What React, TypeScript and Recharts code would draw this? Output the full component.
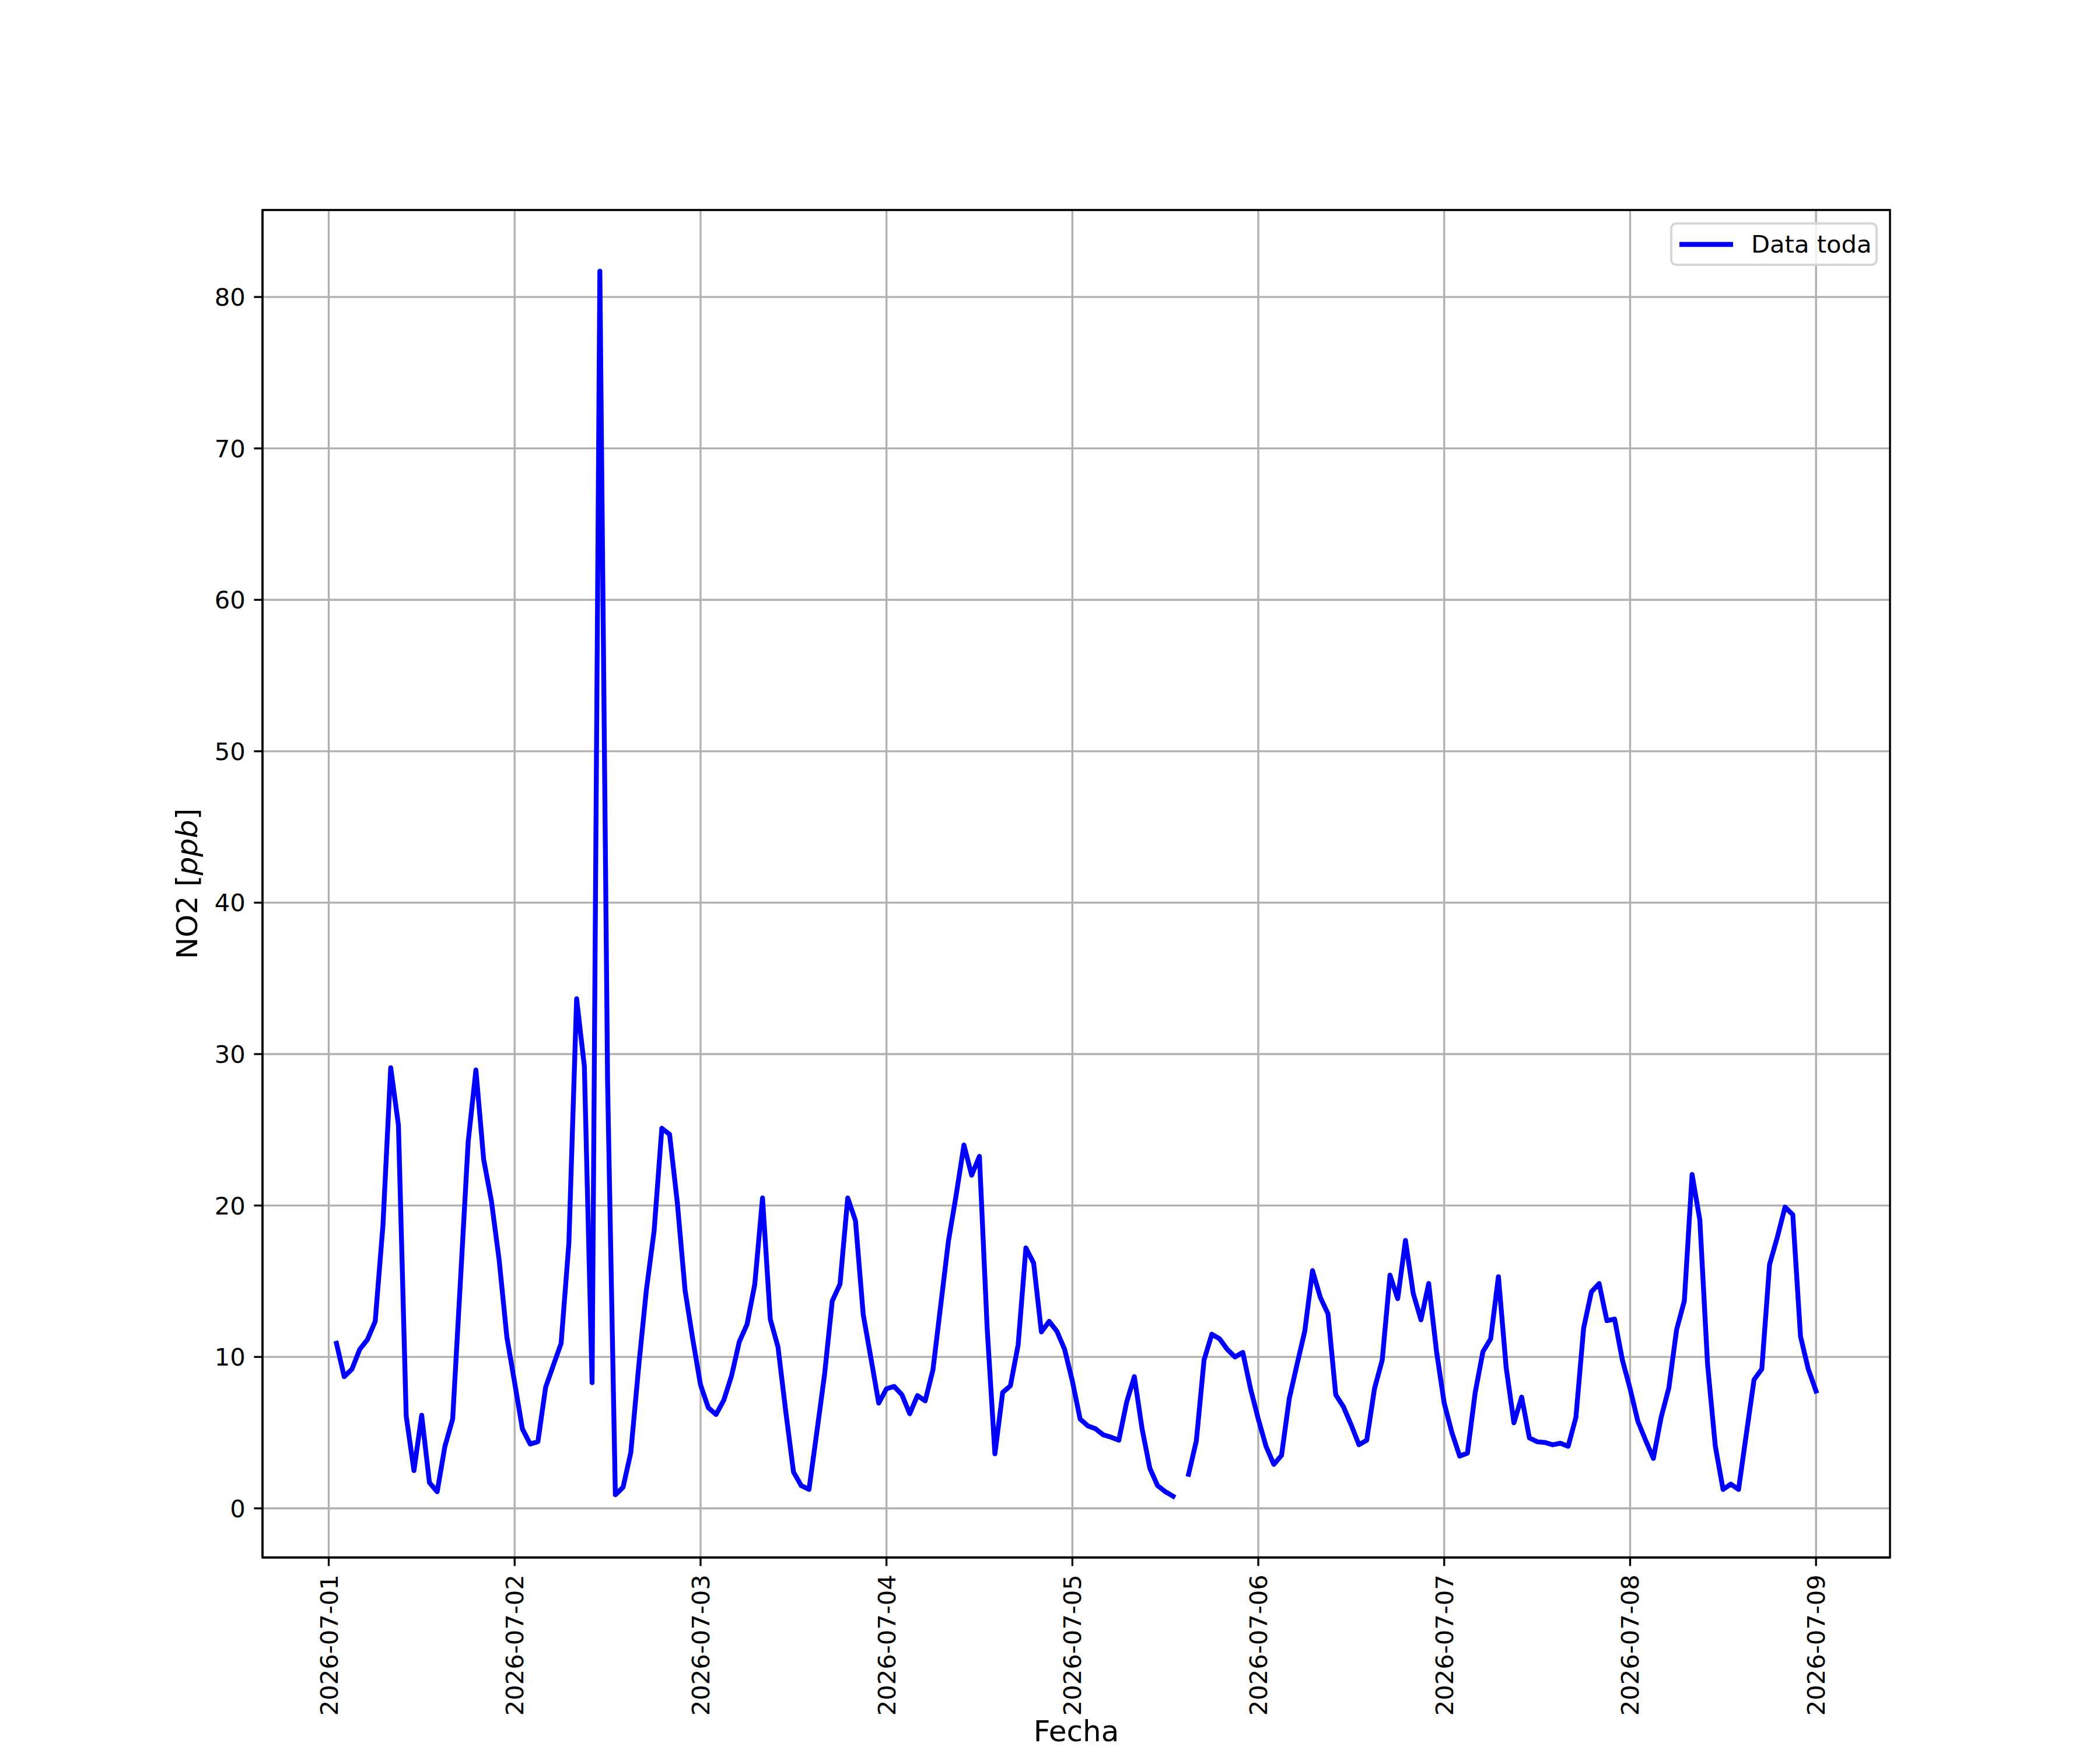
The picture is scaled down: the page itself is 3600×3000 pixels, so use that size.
import React from 'react';
import { LineChart, Line, XAxis, YAxis, CartesianGrid, Legend, ReferenceArea } from 'recharts';

// hourly NO2 readings, hour 1 = 2026-07-01 01:00
const day1Values = [10.9, 8.7, 9.2, 10.5, 11.15, 12.35, 18.7, 29.1, 25.3, 6.1, 2.5, 6.15, 1.7, 1.1, 4.1, 5.9, 15.0, 24.2, 28.95, 23.05, 20.3, 16.4, 11.3, 8.3];
const day2Values = [5.25, 4.25, 4.4, 8.0, 9.45, 10.9, 17.5, 33.65, 29.2, 8.3, 81.7, 28.1, 0.9, 1.4, 3.7, 9.3, 14.4, 18.3, 25.1, 24.7, 20.2, 14.4, 11.15, 8.15];
const day3Values = [6.65, 6.2, 7.15, 8.75, 11.0, 12.15, 14.8, 20.5, 12.5, 10.65, 6.4, 2.4, 1.5, 1.25, 5.0, 8.8, 13.7, 14.8, 20.5, 19.0, 12.8, 9.9, 6.95, 7.9];
const day4Values = [8.05, 7.5, 6.25, 7.45, 7.1, 9.15, 13.4, 17.65, 20.7, 24.0, 22.0, 23.25, 11.9, 3.6, 7.65, 8.1, 10.8, 17.2, 16.2, 11.65, 12.35, 11.7, 10.5, 8.4];
const day5Values = [5.9, 5.45, 5.25, 4.85, 4.7, 4.5, 7.0, 8.7, 5.25, 2.65, 1.5, 1.1, 0.8, null, 2.25, 4.45, 9.8, 11.5, 11.2, 10.5, 10.0, 10.3, 7.9, 5.9];
const day6Values = [4.1, 2.9, 3.5, 7.25, 9.5, 11.7, 15.7, 13.95, 12.85, 7.5, 6.7, 5.5, 4.2, 4.5, 7.9, 9.8, 15.4, 13.85, 17.7, 14.2, 12.45, 14.85, 10.4, 6.95];
const day7Values = [5.0, 3.45, 3.65, 7.65, 10.35, 11.2, 15.3, 9.3, 5.65, 7.35, 4.65, 4.4, 4.35, 4.2, 4.3, 4.1, 6.0, 11.9, 14.3, 14.85, 12.4, 12.5, 9.8, 7.9];
const day8Values = [5.75, 4.5, 3.3, 6.0, 7.95, 11.8, 13.7, 22.05, 19.05, 9.5, 4.1, 1.25, 1.6, 1.25, 4.9, 8.5, 9.2, 16.1, 17.9, 19.9, 19.4, 11.35, 9.2, 7.75];

const tickHours = [0, 24, 48, 72, 96, 120, 144, 168, 192];
const tickLabels = ['2026-07-01', '2026-07-02', '2026-07-03', '2026-07-04', '2026-07-05', '2026-07-06', '2026-07-07', '2026-07-08', '2026-07-09'];
const yTicks = [0, 10, 20, 30, 40, 50, 60, 70, 80];
const seriesName = 'Data toda';

const allValues = [
  ...day1Values, ...day2Values, ...day3Values, ...day4Values,
  ...day5Values, ...day6Values, ...day7Values, ...day8Values,
];
const data = allValues.map((v, i) => ({ t: i + 1, v }));

const FONT = 'DejaVu Sans';
const TICK_FS = 41.67;
const LABEL_FS = 50;
const LW = 3.33;
const SERIES_W = 8.33;
const X_DOMAIN: [number, number] = [-8.55, 201.55];
const Y_DOMAIN: [number, number] = [-3.245, 85.745];

const XTick = (props: any) => {
  const { x, y, payload } = props;
  const idx = tickHours.indexOf(payload.value);
  const label = idx >= 0 ? tickLabels[idx] : String(payload.value);
  return (
    <text
      x={x}
      y={y}
      transform={`rotate(-90, ${x}, ${y})`}
      textAnchor="end"
      dy="0.36em"
      fontFamily={FONT}
      fontSize={TICK_FS}
      fill="#000"
    >
      {label}
    </text>
  );
};

const YTick = (props: any) => {
  const { x, y, payload } = props;
  return (
    <text x={x} y={y} textAnchor="end" dy="0.36em" fontFamily={FONT} fontSize={TICK_FS} fill="#000">
      {payload.value}
    </text>
  );
};

const YLabel = () => (
  <text
    x={338}
    y={1515}
    transform="rotate(-90, 338, 1515)"
    textAnchor="middle"
    fontFamily={FONT}
    fontSize={LABEL_FS}
    fill="#000"
  >
    {'NO2 ['}
    <tspan fontStyle="italic">ppb</tspan>
    {']'}
  </text>
);

const XLabel = () => (
  <text x={1845} y={2985} textAnchor="middle" fontFamily={FONT} fontSize={LABEL_FS} fill="#000">
    Fecha
  </text>
);

const LegendBox = () => (
  <div
    style={{
      boxSizing: 'border-box',
      width: 356,
      height: 75,
      border: '4.17px solid #d6d6d6',
      borderRadius: 11,
      background: 'rgba(255,255,255,0.8)',
      display: 'flex',
      alignItems: 'center',
      fontFamily: FONT,
      fontSize: TICK_FS,
      color: '#000',
      lineHeight: 1,
    }}
  >
    <svg width={110} height={20} style={{ marginLeft: 8, flex: 'none' }}>
      <line x1={4} y1={10} x2={96} y2={10} stroke="#0000ff" strokeWidth={SERIES_W} />
    </svg>
    <span style={{ marginLeft: 17, whiteSpace: 'nowrap' }}>{seriesName}</span>
  </div>
);

export default function App() {
  return (
    <div style={{ position: 'absolute', left: 0, top: 0, width: 3600, height: 3000, background: '#fff' }}>
      <LineChart width={3600} height={3000} data={data} margin={{ top: 360, right: 360, bottom: 0, left: 0 }}>
        <CartesianGrid stroke="#b0b0b0" strokeWidth={LW} />
        <XAxis
          dataKey="t"
          type="number"
          domain={X_DOMAIN}
          ticks={tickHours}
          interval={0}
          allowDataOverflow
          height={330}
          tickSize={14.6}
          tickMargin={14.6}
          tickLine={{ stroke: '#000', strokeWidth: LW }}
          axisLine={{ stroke: '#000', strokeWidth: LW }}
          tick={<XTick />}
          label={<XLabel />}
        />
        <YAxis
          type="number"
          domain={Y_DOMAIN}
          ticks={yTicks}
          interval={0}
          allowDataOverflow
          width={450}
          tickSize={14.6}
          tickMargin={14.6}
          tickLine={{ stroke: '#000', strokeWidth: LW }}
          axisLine={{ stroke: '#000', strokeWidth: LW }}
          tick={<YTick />}
          label={<YLabel />}
        />
        <Line
          dataKey="v"
          name={seriesName}
          type="linear"
          stroke="#0000ff"
          strokeWidth={SERIES_W}
          strokeLinejoin="round"
          strokeLinecap="square"
          dot={false}
          activeDot={false}
          connectNulls={false}
          isAnimationActive={false}
        />
        <ReferenceArea
          x1={X_DOMAIN[0]}
          x2={X_DOMAIN[1]}
          y1={Y_DOMAIN[0]}
          y2={Y_DOMAIN[1]}
          fill="none"
          fillOpacity={0}
          stroke="#000"
          strokeWidth={LW}
          ifOverflow="visible"
        />
        <Legend
          layout="horizontal"
          verticalAlign="middle"
          align="center"
          wrapperStyle={{ position: 'absolute', left: 2863, top: 381, width: 356, height: 75, margin: 0, padding: 0 }}
          content={() => <LegendBox />}
        />
      </LineChart>
    </div>
  );
}
